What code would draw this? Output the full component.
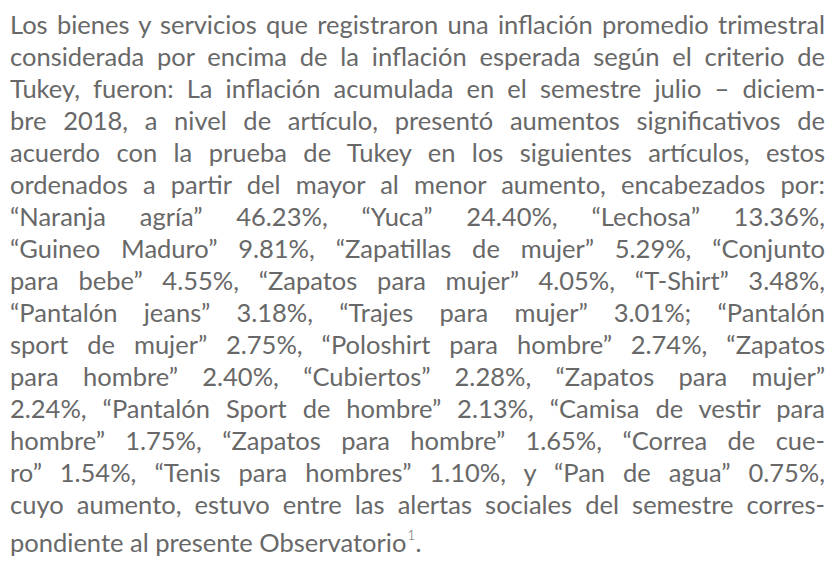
import React from "react";

// The reference is a justified paragraph, laid out line by line as in the source page.
const LINES: string[] = [
  "Los bienes y servicios que registraron una inflación promedio trimestral",
  "considerada por encima de la inflación esperada según el criterio de",
  "Tukey, fueron: La inflación acumulada en el semestre julio – diciem-",
  "bre 2018, a nivel de artículo, presentó aumentos significativos de",
  "acuerdo con la prueba de Tukey en los siguientes artículos, estos",
  "ordenados a partir del mayor al menor aumento, encabezados por:",
  "“Naranja agría” 46.23%, “Yuca” 24.40%, “Lechosa” 13.36%,",
  "“Guineo Maduro” 9.81%, “Zapatillas de mujer” 5.29%, “Conjunto",
  "para bebe” 4.55%, “Zapatos para mujer” 4.05%, “T-Shirt” 3.48%,",
  "“Pantalón jeans” 3.18%, “Trajes para mujer” 3.01%; “Pantalón",
  "sport de mujer” 2.75%, “Poloshirt para hombre” 2.74%, “Zapatos",
  "para hombre” 2.40%, “Cubiertos” 2.28%, “Zapatos para mujer”",
  "2.24%, “Pantalón Sport de hombre” 2.13%, “Camisa de vestir para",
  "hombre” 1.75%, “Zapatos para hombre” 1.65%, “Correa de cue-",
  "ro” 1.54%, “Tenis para hombres” 1.10%, y “Pan de agua” 0.75%,",
  "cuyo aumento, estuvo entre las alertas sociales del semestre corres-",
];
const LAST_LINE = "pondiente al presente Observatorio";
const FOOTNOTE = "1";

const TEXT_COLOR = "#686868";

export default function App() {
  return (
    <div
      style={{
        width: 815,
        height: 553,
        marginLeft: 2,
        marginTop: 0,
        fontFamily: "Lato, 'Noto Sans', sans-serif",
        fontSize: 25.5,
        lineHeight: "32px",
        color: TEXT_COLOR,
        overflow: "hidden",
      }}
    >
      {LINES.map((line, i) => (
        <div
          key={i}
          style={{ textAlign: "justify", textAlignLast: "justify", whiteSpace: "nowrap" as const }}
        >
          {line}
        </div>
      ))}
      <div style={{ marginTop: 6, textAlign: "left" }}>
        {LAST_LINE}
        <sup style={{ fontSize: 14, fontWeight: 300, verticalAlign: 0, position: "relative", top: -12, marginLeft: 1 }}>
          {FOOTNOTE}
        </sup>
        .
      </div>
    </div>
  );
}
